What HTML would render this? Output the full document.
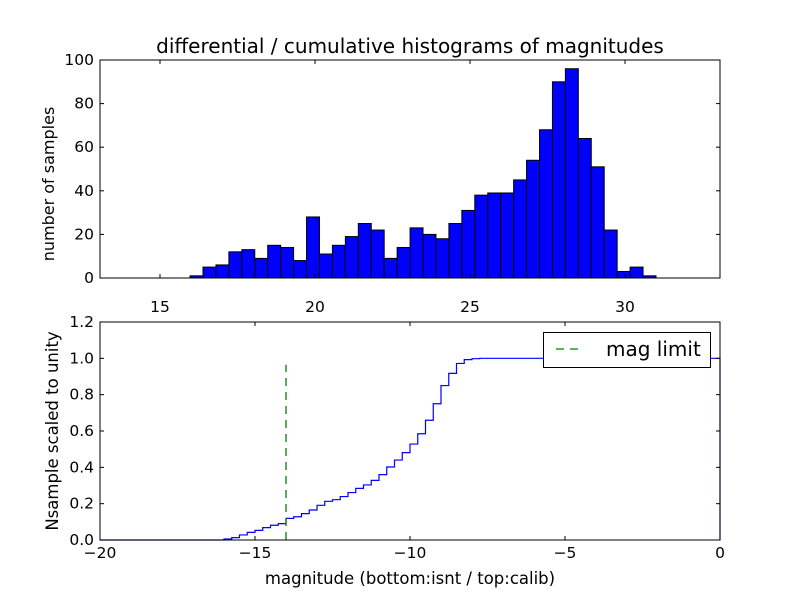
<!DOCTYPE html>
<html><head><meta charset="utf-8"><style>body{margin:0;background:#fff}svg{font-family:"DejaVu Sans","Liberation Sans",sans-serif}</style></head>
<body>
<svg id="c" width="800" height="600" xmlns="http://www.w3.org/2000/svg"></svg>
<script>
const histStart = 15.97;
const histBinWidth = 0.4175;
const histCounts = [1,5,6,12,13,9,15,14,8,28,11,15,19,25,22,9,14,23,20,18,25,31,38,39,39,45,54,68,90,96,64,51,22,3,5,1];
const topXTicks = [15,20,25,30];
const topYTicks = [0,20,40,60,80,100];
const cumStart = -16;
const cumBinWidth = 0.25;
const cumValues = [0.0055,0.013,0.028,0.042,0.053,0.068,0.081,0.09,0.119,0.128,0.145,0.165,0.191,0.213,0.222,0.239,0.261,0.284,0.303,0.328,0.36,0.402,0.44,0.481,0.528,0.585,0.659,0.75,0.85,0.917,0.972,0.993,0.998,1.0];
const magLimit = -14;
const magLimitTop = 0.965;
const botXTicks = [-20,-15,-10,-5,0];
const botYTicks = [0.0,0.2,0.4,0.6,0.8,1.0,1.2];

const NS='http://www.w3.org/2000/svg', svg=document.getElementById('c');
function mk(t,a,p){const e=document.createElementNS(NS,t);for(const k in a)e.setAttribute(k,a[k]);(p||svg).appendChild(e);return e;}
function txt(s,a,p){const e=mk('text',a,p);e.textContent=s;return e;}
const L=100,R=720;
const tx=v=>L+(v-13.065)*31, ty=v=>278-v*2.18;
const gTop=mk('g',{});


histCounts.forEach((c,i)=>{
  const x0=tx(histStart+i*histBinWidth), x1=tx(histStart+(i+1)*histBinWidth);
  const r=mk('rect',{x:x0,y:ty(c),width:x1-x0,height:ty(0)-ty(c),fill:'#0000ff',stroke:'#000','stroke-width':1},gTop);
  
  
});
mk('rect',{x:L,y:60,width:R-L,height:218,fill:'none',stroke:'#000','stroke-width':1},gTop);
topXTicks.forEach(v=>{const x=tx(v);mk('line',{x1:x,x2:x,y1:278,y2:274,stroke:'#000'},gTop);mk('line',{x1:x,x2:x,y1:60,y2:64,stroke:'#000'},gTop);
  const t=txt(v,{x:x,y:312,'text-anchor':'middle','font-size':15.5},gTop);});
topYTicks.forEach(v=>{const y=ty(v);mk('line',{x1:L,x2:L+4,y1:y,y2:y,stroke:'#000'},gTop);mk('line',{x1:R,x2:R-4,y1:y,y2:y,stroke:'#000'},gTop);
  const t=txt(v,{x:94,y:y+5,'text-anchor':'end','font-size':15.5},gTop);});
const bx=v=>L+(v+20)*31, by=v=>540-v*181.67;
const gB=mk('g',{});


let d='M'+bx(-20)+','+by(0)+' L'+bx(cumStart)+','+by(0);
cumValues.forEach((v,i)=>{const x0=bx(cumStart+i*cumBinWidth),x1=bx(cumStart+(i+1)*cumBinWidth);d+=' L'+x0+','+by(v)+' L'+x1+','+by(v);});
d+=' L'+bx(0)+','+by(cumValues[cumValues.length-1])+' L'+bx(0)+','+by(0);
const p=mk('path',{d:d,fill:'none',stroke:'#0000ff','stroke-width':1.2},gB);


const ml=mk('line',{x1:bx(magLimit),x2:bx(magLimit),y1:by(0),y2:by(magLimitTop),stroke:'#008000','stroke-width':1.3,'stroke-dasharray':'8,6'},gB);


mk('rect',{x:L,y:322,width:R-L,height:218,fill:'none',stroke:'#000','stroke-width':1},gB);
botXTicks.forEach(v=>{const x=bx(v);mk('line',{x1:x,x2:x,y1:540,y2:536,stroke:'#000'},gB);mk('line',{x1:x,x2:x,y1:322,y2:326,stroke:'#000'},gB);
  const t=txt(String(v).replace('-','\u2212'),{x:x,y:558,'text-anchor':'middle','font-size':15.5},gB);});
botYTicks.forEach(v=>{const y=by(v);mk('line',{x1:L,x2:L+4,y1:y,y2:y,stroke:'#000'},gB);mk('line',{x1:R,x2:R-4,y1:y,y2:y,stroke:'#000'},gB);
  const t=txt(v.toFixed(1),{x:94,y:y+5,'text-anchor':'end','font-size':15.5},gB);});
</script>
<svg width="800" height="600" style="position:absolute;left:0;top:0" xmlns="http://www.w3.org/2000/svg">
<g font-family="DejaVu Sans, Liberation Sans, sans-serif">
<text x="410" y="53" text-anchor="middle" font-size="20">differential / cumulative histograms of magnitudes</text>
<text transform="translate(54,184) rotate(-90)" text-anchor="middle" font-size="16">number of samples</text>
<text transform="translate(58,431) rotate(-90)" text-anchor="middle" font-size="16.5">Nsample scaled to unity</text>
<text x="410" y="584" text-anchor="middle" font-size="16.5">magnitude (bottom:isnt / top:calib)</text>
<g>
<rect x="543.5" y="332.5" width="167" height="35" fill="#fff" stroke="#000"/>
<line x1="556" x2="584" y1="349" y2="349" stroke="#008000" stroke-width="1.3" stroke-dasharray="8,6"/>
<text x="606" y="356" font-size="20">mag limit</text>
</g>
</g>
</svg>
</body></html>
